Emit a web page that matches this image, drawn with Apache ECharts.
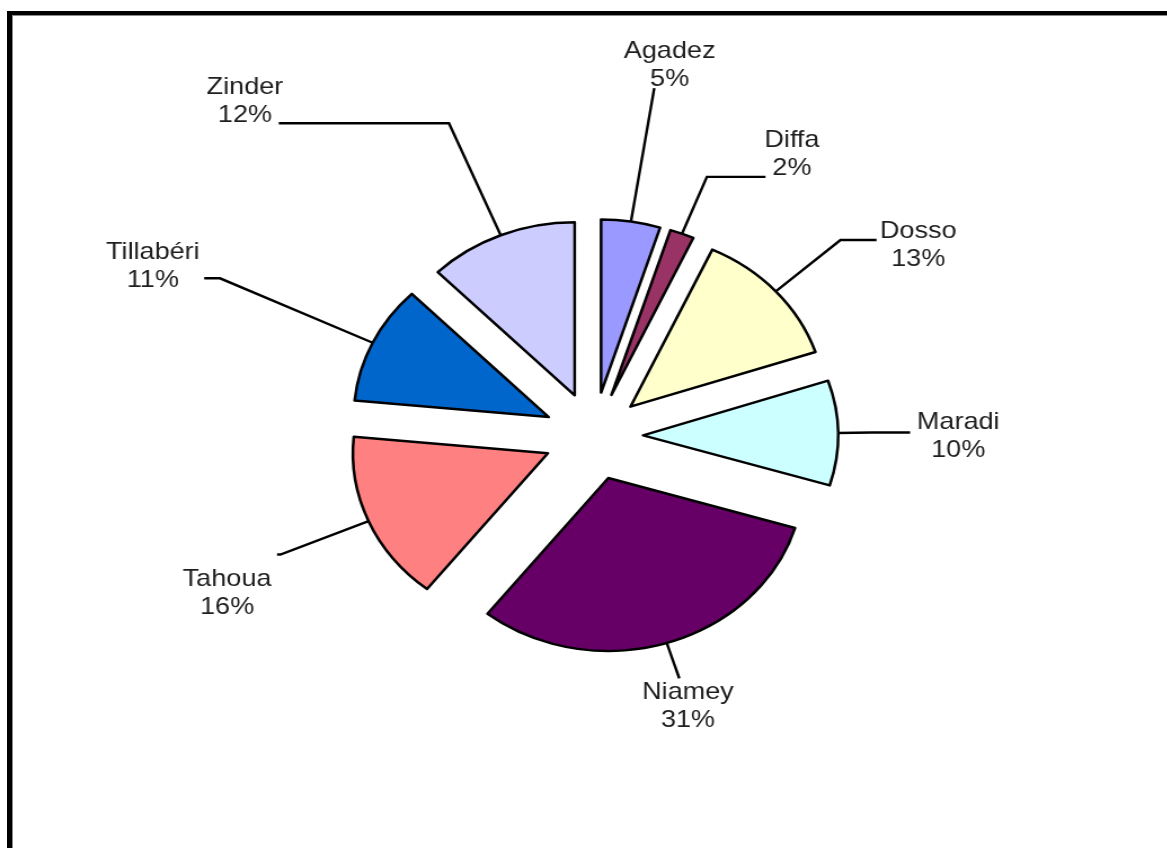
<!DOCTYPE html>
<html>
<head>
<meta charset="utf-8">
<script src="https://cdn.jsdelivr.net/npm/echarts@6/dist/echarts.min.js"></script>
<style>
  html, body { margin: 0; padding: 0; background: #fff; }
  #wrap { position: relative; width: 1167px; height: 848px; overflow: hidden; }
  /* the source picture is stretched sideways, so the chart is too */
  #main { position: absolute; left: 0; top: 0; width: 1035px; height: 848px; transform: scaleX(1.127); transform-origin: 0 0; }
  #frame { position: absolute; left: 7px; top: 11px; right: -10px; bottom: -10px; border-top: 4px solid #000; border-left: 5px solid #000; }
  #frame::after { content: ''; position: absolute; left: 0; top: 0; right: 0; bottom: 0; border-top: 1px solid #8a8a8a; border-left: 1px solid #8a8a8a; }
</style>
</head>
<body>
<div id="wrap">
  <div id="main"></div>
  <div id="frame"></div>
</div>
<script>
// données
const regions = ['Agadez', 'Diffa', 'Dosso', 'Maradi', 'Niamey', 'Tahoua', 'Tillabéri', 'Zinder']
const shares = [4.9, 2.0, 13.0, 9.8, 31.0, 15.9, 11.1, 12.4]
const colors = ['#9999FF', '#993366', '#FFFFCC', '#CCFFFF', '#660066', '#FF8080', '#0066CC', '#CCCCFF']

// leader lines (radial part, horizontal part) and label nudges
const lineLen = [135, 61, 77, 30, 37, 85, 150, 121]
const lineLen2 = [0, 52, 32, 34, 0, 3, 14, 151]
const labelShift = [[-32, -23], [-6, -22], [-2, 5], [1, 4], [-38, 28], [0, 39], [1, -12], [9, -22]]

const myChart = echarts.init(document.getElementById('main'))

const option = {
  animation: false,
  series: [
    {
      type: 'pie',
      center: [526.6, 436],
      radius: 173,
      startAngle: 90,
      clockwise: true,
      selectedMode: 'multiple',
      selectedOffset: 44,
      avoidLabelOverlap: false,
      emphasis: { disabled: true },
      itemStyle: { borderColor: '#000', borderWidth: 2.5 },
      label: {
        position: 'outside',
        distanceToLabelLine: 5,
        formatter: function(p) {
          return '{t|' + p.name + '}\n{t|' + Math.round(p.percent) + '%}'
        },
        rich: {
          t: { align: 'center', fontFamily: 'Liberation Sans, Arial, sans-serif', fontSize: 24, lineHeight: 28, color: '#1e1e1e' }
        }
      },
      labelLine: { show: true, lineStyle: { color: '#000', width: 2.4 } },
      labelLayout: function(params) {
        const s = labelShift[params.dataIndex]
        return { dx: s[0], dy: s[1] }
      },
      data: regions.map(function(name, i) {
        return {
          name: name,
          value: shares[i],
          selected: true,
          itemStyle: { color: colors[i] },
          labelLine: { length: lineLen[i], length2: lineLen2[i] }
        }
      })
    }
  ]
}

myChart.setOption(option)
</script>
</body>
</html>
